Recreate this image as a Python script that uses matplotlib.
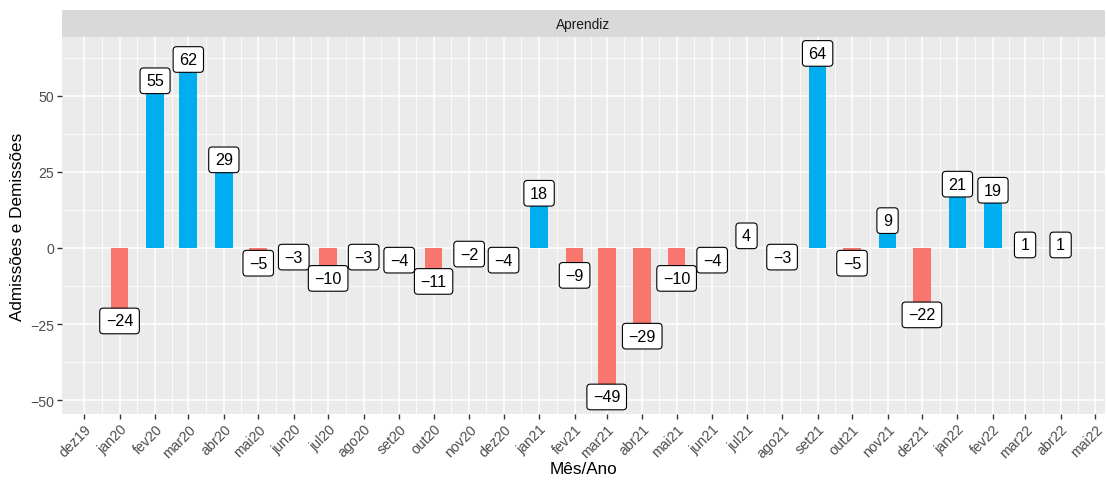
import matplotlib
matplotlib.use("Agg")
import matplotlib.pyplot as plt
import matplotlib.dates as mdates
from matplotlib.patches import BoxStyle
import numpy as np
from datetime import date

plt.rcParams['font.family'] = ['Liberation Sans', 'DejaVu Sans']

months = ["2020-01", "2020-02", "2020-03", "2020-04", "2020-05", "2020-06", "2020-07",
          "2020-08", "2020-09", "2020-10", "2020-11", "2020-12", "2021-01", "2021-02",
          "2021-03", "2021-04", "2021-05", "2021-06", "2021-07", "2021-08", "2021-09",
          "2021-10", "2021-11", "2021-12", "2022-01", "2022-02", "2022-03", "2022-04"]
values = [-24, 55, 62, 29, -5, -3, -10, -3, -4, -11, -2, -4, 18, -9, -49, -29, -10, -4,
          4, -3, 64, -5, 9, -22, 21, 19, 1, 1]
tick_months = ["2019-12", "2020-01", "2020-02", "2020-03", "2020-04", "2020-05", "2020-06",
               "2020-07", "2020-08", "2020-09", "2020-10", "2020-11", "2020-12", "2021-01",
               "2021-02", "2021-03", "2021-04", "2021-05", "2021-06", "2021-07", "2021-08",
               "2021-09", "2021-10", "2021-11", "2021-12", "2022-01", "2022-02", "2022-03",
               "2022-04", "2022-05"]
tick_labels = ["dez19", "jan20", "fev20", "mar20", "abr20", "mai20", "jun20", "jul20",
               "ago20", "set20", "out20", "nov20", "dez20", "jan21", "fev21", "mar21",
               "abr21", "mai21", "jun21", "jul21", "ago21", "set21", "out21", "nov21",
               "dez21", "jan22", "fev22", "mar22", "abr22", "mai22"]
facet_title = "Aprendiz"
xlabel = "Mês/Ano"
ylabel = "Admissões e Demissões"


def to_num(m):
    y, mo = m.split("-")
    return mdates.date2num(date(int(y), int(mo), 1))


class RoundXY:
    """Rounded box with separate horizontal / vertical padding."""
    def __init__(self, padx, pady, r):
        self.padx, self.pady, self.r = padx, pady, r
        self._base = BoxStyle.Round(pad=0.0, rounding_size=r)

    def __call__(self, x0, y0, width, height, mutation_size):
        px = self.padx * mutation_size
        py = self.pady * mutation_size
        return self._base(x0 - px, y0 - py, width + 2 * px, height + 2 * py, mutation_size)


x = np.array([to_num(m) for m in months])
xt = np.array([to_num(m) for m in tick_months])
vals = np.array(values)

W, H = 1106, 481
fig = plt.figure(figsize=(W / 100, H / 100), dpi=100)
L, R, T, B = 62, 1105, 38, 415
ax = fig.add_axes([L / W, 1 - B / H, (R - L) / W, (B - T) / H])
ax.set_facecolor("#EBEBEB")

blue = "#00AEEF"
red = "#F8766D"
colors = [blue if v > 0 else red for v in vals]
ax.bar(x, vals, width=15.5, color=colors, zorder=3)

for xi, v in zip(x, vals):
    txt = str(v).replace("-", "\u2212")
    ax.text(xi, v, txt, ha="center", va="center", fontsize=11.6, color="black", zorder=5,
            bbox=dict(boxstyle=RoundXY(0.38, 0.33, 0.22), fc="white", ec="black", lw=0.8))

# x scale
px_per_day = (1095 - 84) / (xt[-1] - xt[0])
ax.set_xlim(xt[0] - (84 - L) / px_per_day, xt[-1] + (R - 1095) / px_per_day)
ax.set_ylim(-54.6, 69.4)

ax.set_xticks(xt)
ax.set_xticklabels(tick_labels, rotation=45, ha="right", rotation_mode="anchor",
                   fontsize=10.2, color="#4D4D4D")
ax.set_xticks((xt[:-1] + xt[1:]) / 2, minor=True)
ax.set_yticks([-50, -25, 0, 25, 50])
ax.set_yticklabels(["\u221250", "\u221225", "0", "25", "50"], fontsize=10.2, color="#4D4D4D")
ax.set_yticks([-37.5, -12.5, 12.5, 37.5, 62.5], minor=True)

ax.grid(which="major", color="white", lw=1.1, zorder=0)
ax.grid(which="minor", color="white", lw=0.55, zorder=0)
ax.set_axisbelow(True)
ax.tick_params(which="major", length=3.5, width=1, color="#333333", pad=2)
ax.tick_params(which="minor", length=0)
for s in ax.spines.values():
    s.set_visible(False)

ax.set_xlabel(xlabel, fontsize=12.3, labelpad=1)
ax.set_ylabel(ylabel, fontsize=12.3, labelpad=4)

# strip
sax = fig.add_axes([L / W, 1 - T / H, (R - L) / W, 27 / H])
sax.set_facecolor("#D9D9D9")
sax.set_xticks([]); sax.set_yticks([])
for s in sax.spines.values():
    s.set_visible(False)
sax.text(0.5, 0.5, facet_title, ha="center", va="center", fontsize=9.9, color="#1A1A1A",
         transform=sax.transAxes)

fig.savefig("out.png", dpi=100)
